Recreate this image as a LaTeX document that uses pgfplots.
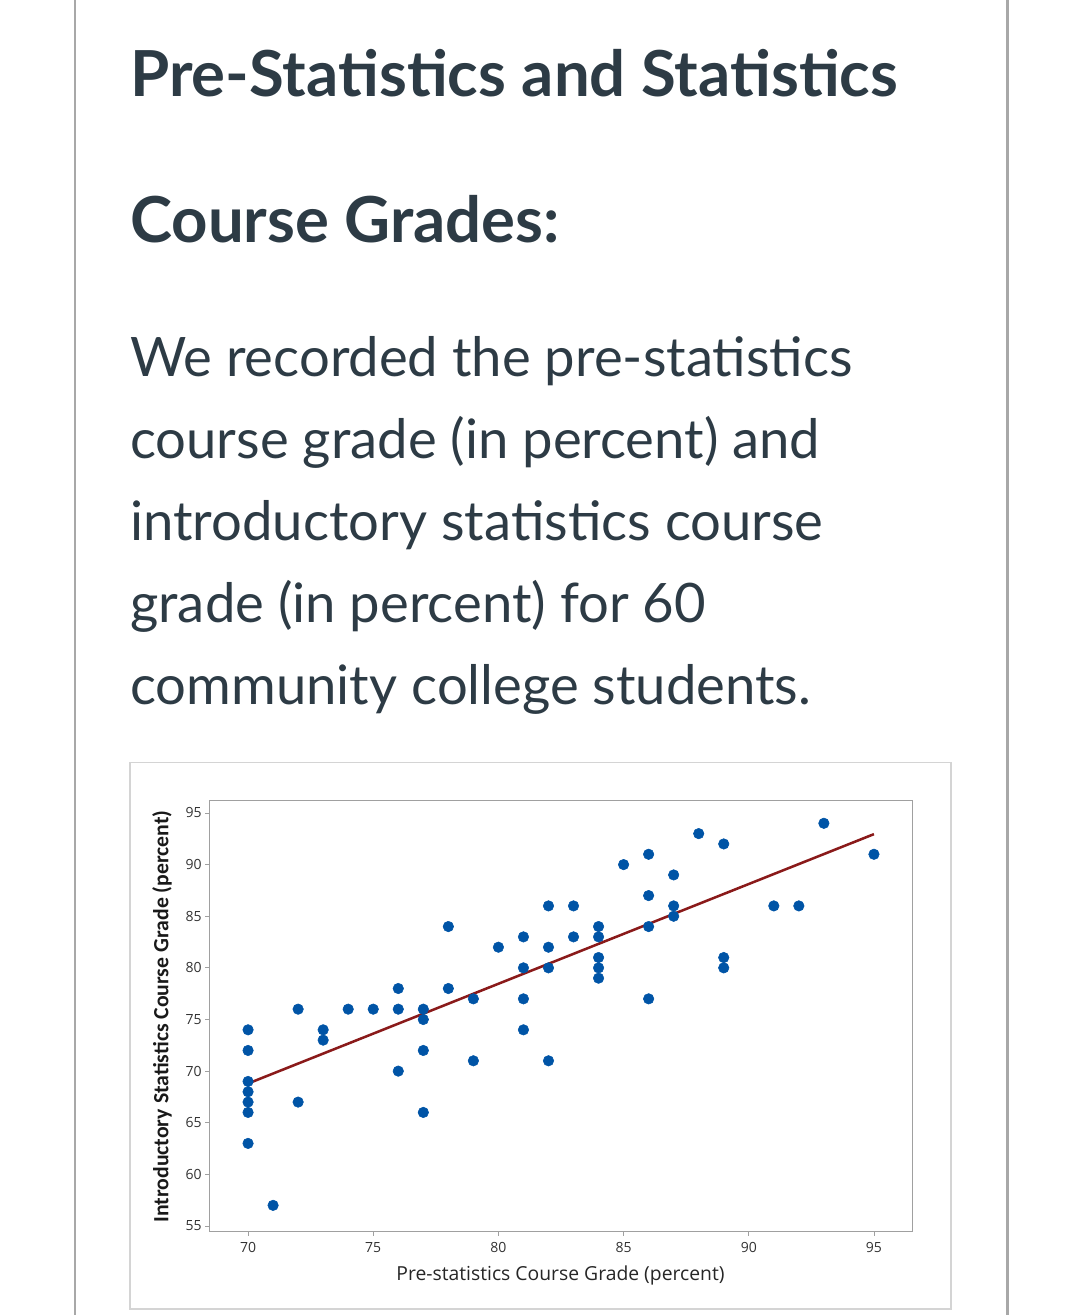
\documentclass[border=0pt]{standalone}
\usepackage{fontspec}
\setmainfont{Lato}
\newfontfamily\tickfont{Open Sans}
\newfontfamily\ylabfont{Carlito}
\usepackage{pgfplots}
\pgfplotsset{compat=1.18}
\definecolor{txt}{HTML}{2D3B45}
\definecolor{ptblue}{HTML}{0054A6}
\definecolor{fitred}{HTML}{8A1A1A}
\definecolor{bord}{HTML}{A8A8A8}
\definecolor{boxgray}{HTML}{D4D4D4}
\definecolor{axgray}{HTML}{A0A0A0}
\begin{document}
\begin{tikzpicture}[x=0.75pt,y=0.75pt]
\path[use as bounding box] (0,0) rectangle (1080,1315);
% page borders
\draw[bord,line width=1.6pt] (75,0) -- (75,1315);
\draw[bord,line width=1.6pt] (1007.5,0) -- (1007.5,1315);
% texts
\node[anchor=base west,inner sep=0,text=txt,font={\fontsize{47.6pt}{50pt}\selectfont\bfseries}] at (130,1218) {Pre-Statistics and Statistics};
\node[anchor=base west,inner sep=0,text=txt,font={\fontsize{47.6pt}{50pt}\selectfont\bfseries}] at (130,1072) {Course Grades:};
\foreach \t/\yy in {{We recorded the pre-statistics}/938,{course grade (in percent) and}/856,{introductory statistics course}/774,{grade (in percent) for 60}/692,{community college students.}/610}{
  \node[anchor=base west,inner sep=0,text=txt,font={\fontsize{40.8pt}{44pt}\selectfont}] at (130,\yy) {\t};
}
% chart box
\draw[boxgray,line width=1.2pt] (130,6) rectangle (951,552.5);
\begin{axis}[
  at={(156.75pt,62.25pt)}, anchor=south west,
  scale only axis, width=527.25pt, height=323.25pt,
  xmin=68.44, xmax=96.52, ymin=54.42, ymax=96.16,
  xtick={70,75,...,95}, ytick={55,60,...,95},
  tick align=outside, major tick length=3pt,
  xtick pos=bottom, ytick pos=left,
  axis line style={axgray,line width=0.75pt},
  tick style={axgray,line width=0.6pt},
  ticklabel style={font={\tickfont\fontsize{10.5pt}{12pt}\selectfont},text=black!80},
  /pgf/number format/assume math mode=true,
  xticklabel style={yshift=-1pt},
  yticklabel style={xshift=1pt},
  xlabel={Pre-statistics Course Grade (percent)},
  ylabel={Introductory Statistics Course Grade (percent)},
  xlabel style={at={(axis description cs:0.5,0)},anchor=center,yshift=-32.25pt,font={\tickfont\fontsize{14.5pt}{16pt}\selectfont},text=black!85},
  ylabel style={at={(axis description cs:0,0.5)},anchor=center,yshift=35.25pt,font={\ylabfont\bfseries\fontsize{16.3pt}{18pt}\selectfont},text=black!90},
  clip=false,
]
\addplot[only marks, mark=*, mark size=3.95pt, mark options={draw=ptblue,fill=ptblue}] coordinates {
(70,74) (70,72) (70,69) (70,68) (70,67) (70,66) (70,63)
(71,57)
(72,76) (72,67)
(73,74) (73,73)
(74,76)
(75,76)
(76,78) (76,76) (76,70)
(77,76) (77,75) (77,72) (77,66)
(78,84) (78,78)
(79,77) (79,71)
(80,82)
(81,83) (81,80) (81,77) (81,74)
(82,86) (82,82) (82,80) (82,71)
(83,86) (83,83)
(84,84) (84,83) (84,81) (84,80) (84,79)
(85,90)
(86,91) (86,87) (86,84) (86,77)
(87,89) (87,86) (87,85)
(88,93)
(89,92) (89,81) (89,80)
(91,86)
(92,86)
(93,94)
(95,91)
};
\addplot[fitred, line width=1.9pt] coordinates {(70,68.8) (95,92.95)};
\end{axis}
\end{tikzpicture}
\end{document}
